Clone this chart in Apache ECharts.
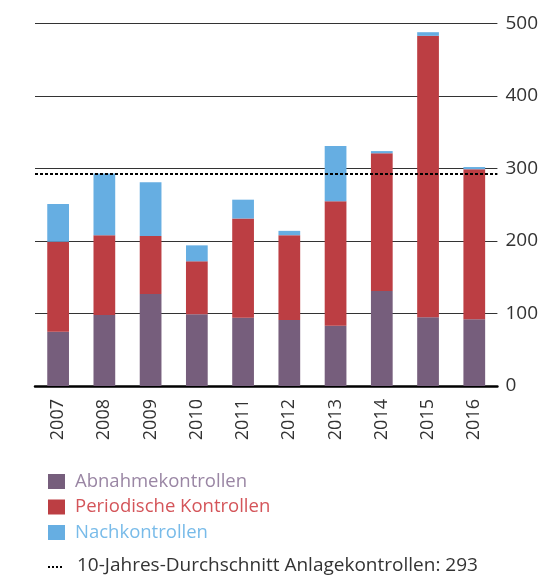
<!DOCTYPE html>
<html>
<head>
<meta charset="utf-8">
<script src="https://cdn.jsdelivr.net/npm/echarts@6/dist/echarts.min.js"></script>
<style>
  html, body { margin: 0; padding: 0; background: #fff; }
  #main { width: 541px; height: 575px; }
</style>
</head>
<body>
<div id="main"></div>
<script>
  var years = ['2007', '2008', '2009', '2010', '2011', '2012', '2013', '2014', '2015', '2016'];
  var abnahme = [75, 98, 127, 99, 94, 91, 83, 131, 95, 92];
  var periodisch = [124, 110, 80, 73, 137, 117, 172, 190, 388, 207];
  var nach = [52, 85, 74, 22, 26, 6, 76, 3, 5, 3];
  var average = 293;
  var yTicks = [0, 100, 200, 300, 400, 500];

  var font = '"Open Sans", "Noto Sans", sans-serif';

  var myChart = echarts.init(document.getElementById('main'));
  myChart.setOption({
    animation: false,
    grid: {
      left: 35,
      right: 38,
      top: 23.5,
      bottom: 189,
      containLabel: false
    },
    legend: {
      orient: 'vertical',
      left: 48,
      top: 472,
      padding: 0,
      itemWidth: 17,
      itemHeight: 15,
      itemGap: 6.5,
      icon: 'rect',
      selectedMode: false,
      textStyle: { fontFamily: font, fontSize: 18.5, padding: [0, 0, 0, 5] },
      data: [
        { name: 'Abnahmekontrollen', textStyle: { color: '#9a86a4' } },
        { name: 'Periodische Kontrollen', textStyle: { color: '#d4555a' } },
        { name: 'Nachkontrollen', textStyle: { color: '#78bbe9' } }
      ]
    },
    xAxis: {
      type: 'category',
      data: years,
      axisLine: { lineStyle: { color: '#000', width: 2.5 } },
      axisTick: { show: false },
      axisLabel: {
        rotate: 90,
        margin: 13,
        color: '#333',
        fontSize: 18,
        fontFamily: font
      }
    },
    yAxis: {
      type: 'value',
      position: 'right',
      min: yTicks[0],
      max: yTicks[yTicks.length - 1],
      interval: 100,
      axisLine: { show: false },
      axisTick: { show: false },
      splitLine: { lineStyle: { color: '#333', width: 1 } },
      axisLabel: {
        margin: 8,
        color: '#333',
        fontSize: 19,
        fontFamily: font
      }
    },
    series: [
      {
        name: 'Abnahmekontrollen',
        type: 'bar',
        stack: 'total',
        barWidth: '47%',
        itemStyle: { color: '#765e7c' },
        data: abnahme
      },
      {
        name: 'Periodische Kontrollen',
        type: 'bar',
        stack: 'total',
        itemStyle: { color: '#bc3e43' },
        data: periodisch
      },
      {
        name: 'Nachkontrollen',
        type: 'bar',
        stack: 'total',
        itemStyle: { color: '#66aee2' },
        data: nach,
        markLine: {
          silent: true,
          symbol: 'none',
          label: { show: false },
          lineStyle: { color: '#000', width: 2, type: [3, 2] },
          data: [{ yAxis: average }]
        }
      }
    ],
    graphic: [
      {
        type: 'line',
        shape: { x1: 48, y1: 567, x2: 64, y2: 567 },
        style: { stroke: '#000', lineWidth: 2, lineDash: [2, 2] }
      },
      {
        type: 'text',
        left: 77,
        top: 556,
        style: {
          text: '10-Jahres-Durchschnitt Anlagekontrollen: ' + average,
          fill: '#333',
          font: '19px ' + font
        }
      }
    ]
  });
</script>
</body>
</html>
